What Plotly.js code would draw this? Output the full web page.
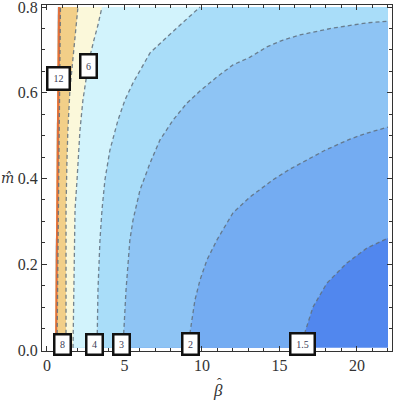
<!DOCTYPE html>
<html>
<head>
<meta charset="utf-8">
<script src="https://cdn.plot.ly/plotly-3.0.1.min.js"></script>
<style>html,body{margin:0;padding:0;background:#fff}</style>
</head>
<body>
<div id="contourChart" style="width:397px;height:402px"></div>
<script>
// data edges
var betaMax = 22;
var mMin = 0.005;
var mMax = 0.8;

// left edge of the plotted values (white beyond it)
var clipBeta = [0.52, 0.58, 0.61, 0.65, 0.71];
var clipM = [0.005, 0.233, 0.466, 0.583, 0.8];

// contour lines, bottom to top / right
var c12Beta = [0.65, 0.71, 0.74, 0.77, 0.87];
var c12M = [0.005, 0.233, 0.466, 0.583, 0.8];

var c8Beta = [1.23, 1.23, 1.23, 1.29, 1.35, 1.48, 1.68, 1.81, 2.0];
var c8M = [0.005, 0.163, 0.327, 0.443, 0.513, 0.606, 0.676, 0.735, 0.8];

var c6Beta = [1.68, 1.74, 1.81, 1.94, 2.06, 2.13, 2.32, 2.52, 2.71, 3.03, 3.29, 3.55];
var c6M = [0.005, 0.163, 0.327, 0.397, 0.466, 0.513, 0.583, 0.63, 0.676, 0.723, 0.758, 0.8];

var c4Beta = [3.23, 3.29, 3.42, 3.55, 3.74, 4.06, 4.58, 5.03, 5.55, 6.65, 7.74, 8.77, 9.55, 9.87];
var c4M = [0.005, 0.14, 0.257, 0.327, 0.397, 0.466, 0.536, 0.583, 0.623, 0.693, 0.73, 0.763, 0.788, 0.8];

var c3Beta = [4.9, 5.1, 5.35, 5.55, 6.0, 6.65, 7.29, 8.13, 9.03, 9.87, 10.97, 12.0, 13.1, 14.19, 15.23, 16.32, 18.45, 20.65, 22];
var c3M = [0.005, 0.14, 0.257, 0.303, 0.373, 0.436, 0.49, 0.536, 0.576, 0.604, 0.637, 0.665, 0.683, 0.707, 0.723, 0.735, 0.751, 0.763, 0.767];

var c2Beta = [9.23, 9.23, 9.35, 9.55, 9.87, 10.32, 10.97, 12.0, 13.1, 14.58, 15.68, 16.77, 17.94, 19.55, 20.65, 22];
var c2M = [0.005, 0.04, 0.07, 0.117, 0.163, 0.21, 0.257, 0.32, 0.357, 0.397, 0.422, 0.443, 0.466, 0.492, 0.506, 0.52];

var c15Beta = [16.58, 16.65, 17.16, 18.06, 19.35, 20.65, 22];
var c15M = [0.005, 0.042, 0.1, 0.156, 0.203, 0.238, 0.261];

// labels on the contours
var labelText = ["12", "6", "8", "4", "3", "2", "1.5"];
var labelBeta = [0.74, 2.66, 1.01, 3.06, 4.79, 9.28, 16.48];
var labelM = [0.633, 0.662, 0.014, 0.014, 0.014, 0.015, 0.015];

var labelW = [18, 12, 12, 12, 12, 12, 20];
var labelH = [18, 19, 16, 16, 16, 17, 17];

var baseColor = "#5187ee";
var contours = [
  {b: c15Beta, m: c15M, color: "#74acf2"},
  {b: c2Beta, m: c2M, color: "#8ec4f4"},
  {b: c3Beta, m: c3M, color: "#a9ddf9"},
  {b: c4Beta, m: c4M, color: "#d2f3fc"},
  {b: c6Beta, m: c6M, color: "#fbf8da"},
  {b: c8Beta, m: c8M, color: "#f2cf88"},
  {b: c12Beta, m: c12M, color: "#e4703a"}
];

function closeLeft(xs, ys) {
  for (var i = clipBeta.length - 1; i >= 0; i--) {
    xs.push(clipBeta[i]);
    ys.push(clipM[i]);
  }
}

var data = [];

// lowest band, everything right of the cut
var bx = clipBeta.slice(), by = clipM.slice();
bx.push(betaMax, betaMax);
by.push(mMax, mMin);
data.push({x: bx, y: by, type: "scatter", mode: "lines", fill: "toself",
  fillcolor: baseColor, line: {width: 0}, hoverinfo: "skip"});

contours.forEach(function (c) {
  var xs = c.b.slice(), ys = c.m.slice();
  if (ys[ys.length - 1] < mMax) {
    xs.push(betaMax);
    ys.push(mMax);
  }
  closeLeft(xs, ys);
  data.push({x: xs, y: ys, type: "scatter", mode: "lines", fill: "toself",
    fillcolor: c.color, line: {width: 0}, hoverinfo: "skip"});
});

contours.forEach(function (c) {
  data.push({x: c.b, y: c.m, type: "scatter", mode: "lines",
    line: {color: "rgba(95,110,125,0.85)", width: 1.3, dash: "4px,3px"},
    hoverinfo: "skip"});
});

var annotations = labelText.map(function (t, i) {
  return {
    x: labelBeta[i], y: labelM[i], xref: "x", yref: "y",
    text: t, showarrow: false,
    bgcolor: "#fff", bordercolor: "#111", borderwidth: 2.5, borderpad: 1,
    width: labelW[i], height: labelH[i],
    font: {size: 10, color: "#3b3b55", family: "Liberation Serif, serif"}
  };
});

// axis names: beta hat below, m hat on the left
annotations.push({
  xref: "paper", yref: "paper", x: 0.503, y: -0.115,
  xanchor: "center", yanchor: "middle",
  text: "<i>\u03b2</i>", showarrow: false,
  font: {size: 17, color: "#333", family: "Liberation Serif, serif"}
});
annotations.push({
  xref: "paper", yref: "paper", x: 0.508, y: -0.094,
  xanchor: "center", yanchor: "middle",
  text: "\u02c6", showarrow: false,
  font: {size: 14, color: "#333", family: "Liberation Serif, serif"}
});
annotations.push({
  xref: "paper", yref: "paper", x: -0.1, y: 0.5,
  xanchor: "center", yanchor: "middle",
  text: "<i>m\u0302</i>", showarrow: false,
  font: {size: 14, color: "#333", family: "DejaVu Serif, serif"}
});

var layout = {
  width: 397,
  height: 402,
  margin: {l: 42, r: 5, t: 5, b: 51},
  paper_bgcolor: "#fff",
  plot_bgcolor: "#fff",
  showlegend: false,
  font: {family: "Liberation Serif, Times New Roman, serif", size: 16, color: "#333"},
  xaxis: {
    range: [-0.32, 22.26],
    tickvals: [0, 5, 10, 15, 20],
    ticks: "inside", ticklen: 5, tickcolor: "#333",
    showline: true, linecolor: "#333", linewidth: 1, mirror: "ticks",
    showgrid: false, zeroline: false, ticklabeloverflow: "allow",
    minor: {tick0: 0, dtick: 1, ticks: "inside", ticklen: 3, tickcolor: "#333"}
  },
  yaxis: {
    range: [-0.0023, 0.8047],
    tickvals: [0, 0.2, 0.4, 0.6, 0.8],
    tickformat: ".1f",
    ticks: "inside", ticklen: 5, tickcolor: "#333",
    showline: true, linecolor: "#333", linewidth: 1, mirror: "ticks",
    showgrid: false, zeroline: false, ticklabeloverflow: "allow",
    minor: {tick0: 0, dtick: 0.05, ticks: "inside", ticklen: 3, tickcolor: "#333"}
  },
  annotations: annotations
};

Plotly.newPlot("contourChart", data, layout, {staticPlot: true});
</script>
</body>
</html>
